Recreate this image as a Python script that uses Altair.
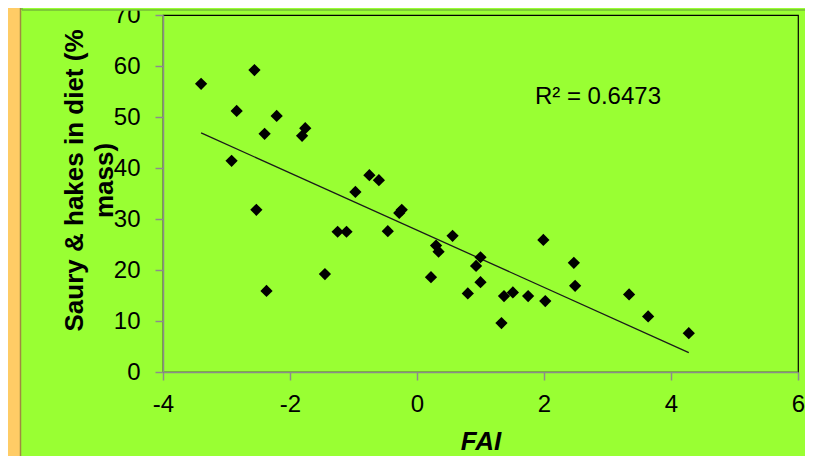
import altair as alt
import pandas as pd

# FAI index values (x) and % saury & hakes in diet (y)
fai = [-3.40, -2.56, -2.84, -2.21, -2.40, -1.76, -1.81, -2.92, -2.53, -2.37,
       -1.45, -1.25, -1.11, -0.97, -0.75, -0.60, -0.46, -0.28, -0.24, 0.56,
       0.30, 0.34, 1.00, 0.93, 1.99, 2.47, 2.49, 0.22, 1.00, 0.80,
       1.37, 1.51, 1.75, 2.02, 1.33, 3.34, 3.64, 4.28]
diet = [56.5, 59.2, 51.2, 50.2, 46.7, 47.8, 46.3, 41.4, 31.8, 15.9,
        19.2, 27.5, 27.5, 35.3, 38.6, 37.6, 27.6, 31.2, 31.8, 26.7,
        24.8, 23.6, 22.5, 20.8, 25.9, 21.4, 16.9, 18.6, 17.6, 15.4,
        14.9, 15.6, 14.9, 13.9, 9.6, 15.2, 10.9, 7.6]
x_ticks = [-4, -2, 0, 2, 4, 6]
y_ticks = [0, 10, 20, 30, 40, 50, 60, 70]
r2_label = ["R\u00b2 = 0.6473"]
r2_pos_x = [2.85]
r2_pos_y = [54]

df = pd.DataFrame({"FAI": fai, "diet": diet})
ann = pd.DataFrame({"label": r2_label, "x": r2_pos_x, "y": r2_pos_y})
one = pd.DataFrame({"a": [0]})

GREEN = "#99FF33"
FONT = "Liberation Sans"

xs = alt.Scale(domain=[-4, 6], nice=False, zero=False)
ys = alt.Scale(domain=[0, 70], nice=False)

x_axis = alt.Axis(values=x_ticks, title="FAI", grid=False,
                  labelExpr="datum.value + ''", labelFlush=False, labelOverlap=False,
                  titleFontStyle="italic", titleFontWeight="bold", titleFontSize=26,
                  titleFont=FONT, titleY=77, titleBaseline="alphabetic",
                  labelPadding=12, labelFontSize=24, labelFont=FONT)
y_axis = alt.Axis(values=y_ticks, grid=False,
                  labelExpr="datum.value + ''", labelFlush=False, labelOverlap=False,
                  title=["Saury & hakes in diet (%", "mass)"],
                  titleFontWeight="bold", titleFontSize=26, titleFont=FONT,
                  titleAngle=270, titleAlign="center", titleBaseline="alphabetic",
                  titleX=-81, titleY=165, titleLineHeight=30,
                  labelPadding=15, labelFontSize=24, labelFont=FONT)

points = alt.Chart(df).mark_point(shape="diamond", filled=True, color="black",
                                  size=150, opacity=1).encode(
    x=alt.X("FAI:Q", scale=xs, axis=x_axis),
    y=alt.Y("diet:Q", scale=ys, axis=y_axis),
)

trend = alt.Chart(df).transform_regression("FAI", "diet").mark_line(
    color="#1a1a1a", strokeWidth=1.3).encode(
    x=alt.X("FAI:Q", scale=xs),
    y=alt.Y("diet:Q", scale=ys),
)

r2 = alt.Chart(ann).mark_text(font=FONT, fontSize=24, color="black",
                              align="center", baseline="middle").encode(
    x=alt.X("x:Q", scale=xs), y=alt.Y("y:Q", scale=ys), text="label:N")

# slide decorations
stripe = alt.Chart(one).mark_rect(color="#FFCC66").encode(
    x=alt.value(-160), x2=alt.value(-143), y=alt.value(-20), y2=alt.value(460))
stripe_edge = alt.Chart(one).mark_rule(color="#A08A40", strokeWidth=1.5).encode(
    x=alt.value(-142.5), y=alt.value(-20), y2=alt.value(460))
top_box = alt.Chart(one).mark_rect(color=GREEN).encode(
    x=alt.value(-141), x2=alt.value(660), y=alt.value(-20), y2=alt.value(-5))
top_line = alt.Chart(one).mark_rule(color="#76B83A", strokeWidth=1.5).encode(
    x=alt.value(-141), x2=alt.value(660), y=alt.value(-5))
top_vline = alt.Chart(one).mark_rule(color="#76B83A", strokeWidth=1.5).encode(
    x=alt.value(-141), y=alt.value(-20), y2=alt.value(-5))

chart = alt.layer(stripe, stripe_edge, top_box, top_line, top_vline,
                  trend, points, r2).properties(
    width=635, height=357,
    autosize=alt.AutoSizeParams(type="none"),
    padding={"left": 155, "top": 7, "right": 7, "bottom": 84},
    background=GREEN,
).configure_view(
    stroke="black", strokeWidth=1.2, fill=GREEN
).configure_axis(
    domainColor="#8C8C8C", domainWidth=1.5, tickColor="#8C8C8C", tickWidth=1.5,
    tickSize=8, labelColor="black", titleColor="black"
)

chart.save("out.html", embed_options={"renderer": "svg", "actions": False})
